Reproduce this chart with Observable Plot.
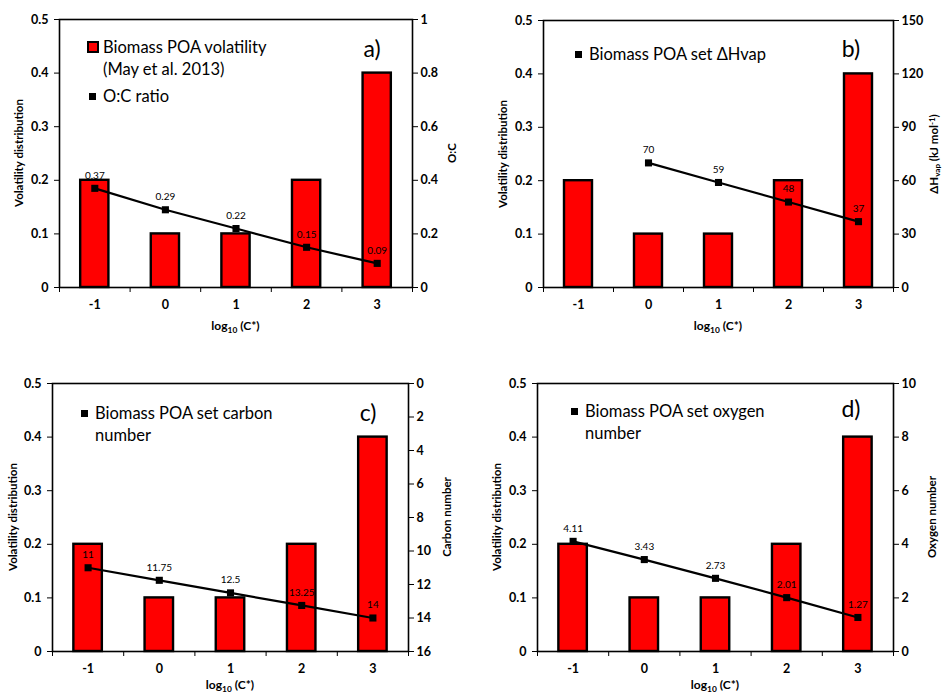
<!DOCTYPE html>
<html>
<head>
<meta charset="utf-8">
<script src="https://cdn.jsdelivr.net/npm/d3@7"></script>
<script src="https://cdn.jsdelivr.net/npm/@observablehq/plot@0.6"></script>
<style>
  html, body { margin: 0; padding: 0; background: #fff; }
  #root { position: relative; width: 943px; height: 695px; overflow: hidden; font-family: Lato, "Open Sans", sans-serif; color: #000; }
  .panel { position: absolute; }
  .panel svg { position: absolute; left: 0; top: 0; overflow: visible; }
  .vt { position: absolute; white-space: nowrap; line-height: 1; transform: translate(-50%, -50%) rotate(-90deg); font-weight: bold; font-size: 11.5px; }
  .xt { position: absolute; white-space: nowrap; line-height: 1; transform: translate(-50%, -50%); font-weight: bold; font-size: 12px; }
  .leg { position: absolute; white-space: nowrap; line-height: 1; transform: translateY(-50%); font-size: 16.5px; }
  .letter { position: absolute; white-space: nowrap; line-height: 1; transform: translate(-50%, -50%); font-size: 23px; }
  .sw { position: absolute; box-sizing: border-box; }
  .sb { font-size: 0.7em; position: relative; top: 0.3em; }
  .sp { font-size: 0.7em; position: relative; top: -0.4em; }
</style>
</head>
<body>
<div id="root"></div>
<script>
// ---- data ----
const bins = [-1, 0, 1, 2, 3];                       // log10(C*)
const volatility = [0.2, 0.1, 0.1, 0.2, 0.4];         // Biomass POA volatility (May et al. 2013)
const ocRatio = [0.37, 0.29, 0.22, 0.15, 0.09];       // O:C ratio
const dHvapBins = [0, 1, 2, 3];
const dHvap = [70, 59, 48, 37];                       // kJ mol-1
const carbonNumber = [11, 11.75, 12.5, 13.25, 14];
const oxygenNumber = [4.11, 3.43, 2.73, 2.01, 1.27];
const leftTicks = [0, 0.1, 0.2, 0.3, 0.4, 0.5];
const ocTicks = [0, 0.2, 0.4, 0.6, 0.8, 1];
const dHTicks = [0, 30, 60, 90, 120, 150];
const carbonTicks = [0, 2, 4, 6, 8, 10, 12, 14, 16];
const oxygenTicks = [0, 2, 4, 6, 8, 10];

const barData = bins.map((b, i) => ({bin: b, v: volatility[i]}));
const binEdges = bins.map(b => b - 0.5).concat([bins[bins.length - 1] + 0.5]);
const barHalf = 0.2;
const xDomain = [binEdges[0], binEdges[binEdges.length - 1]];
const fmt = d => String(d);

const panels = [
  {
    left: 0, top: 0, w: 470, h: 340, m: [19, 58, 53, 59],
    line: bins.map((b, i) => ({bin: b, v: ocRatio[i]})),
    rDomain: [0, 1], rTicks: ocTicks, reverse: false,
    letter: "a)", letterPos: [372, 48],
    leftTitleX: 19, rightTitleX: 452, rightTitle: "O:C",
    xTitleY: 326,
    legend: [
      {type: "bar", x: 87, y: 47, lines: ["Biomass POA volatility", "(May et al. 2013)"]},
      {type: "dot", x: 92, y: 96, lines: ["O:C ratio"]}
    ], textX: 103
  },
  {
    left: 470, top: 0, w: 473, h: 340, m: [20, 50, 53, 73],
    line: dHvapBins.map((b, i) => ({bin: b, v: dHvap[i]})),
    rDomain: [0, 150], rTicks: dHTicks, reverse: false,
    letter: "b)", letterPos: [381, 48],
    leftTitleX: 33, rightTitleX: 464, rightTitle: "ΔH<span class=\"sb\">vap</span> (kJ mol<span class=\"sp\">-1</span>)",
    xTitleY: 326,
    legend: [
      {type: "dot", x: 108, y: 54, lines: ["Biomass POA set ΔHvap"]}
    ], textX: 119
  },
  {
    left: 0, top: 340, w: 470, h: 355, m: [43, 62, 44, 52],
    line: bins.map((b, i) => ({bin: b, v: carbonNumber[i]})),
    rDomain: [0, 16], rTicks: carbonTicks, reverse: true,
    letter: "c)", letterPos: [368, 72],
    leftTitleX: 13, rightTitleX: 447, rightTitle: "Carbon number",
    xTitleY: 345,
    legend: [
      {type: "dot", x: 84, y: 73, lines: ["Biomass POA set carbon", "number"]}
    ], textX: 95
  },
  {
    left: 470, top: 340, w: 473, h: 355, m: [43, 50, 44, 67],
    line: bins.map((b, i) => ({bin: b, v: oxygenNumber[i]})),
    rDomain: [0, 10], rTicks: oxygenTicks, reverse: false,
    letter: "d)", letterPos: [381, 68],
    leftTitleX: 27, rightTitleX: 462, rightTitle: "Oxygen number",
    xTitleY: 345,
    legend: [
      {type: "dot", x: 104, y: 71, lines: ["Biomass POA set oxygen", "number"]}
    ], textX: 115
  }
];

const root = document.getElementById("root");
const fontStyle = {fontFamily: "Lato, 'Open Sans', sans-serif", fontSize: "12.5px", fontWeight: "bold", background: "transparent", overflow: "visible"};

for (const p of panels) {
  const div = document.createElement("div");
  div.className = "panel";
  div.style.left = p.left + "px";
  div.style.top = p.top + "px";
  div.style.width = p.w + "px";
  div.style.height = p.h + "px";
  root.appendChild(div);

  const [mt, mr, mb, ml] = p.m;
  const common = {width: p.w, height: p.h, marginTop: mt, marginRight: mr, marginBottom: mb, marginLeft: ml, style: fontStyle};

  const bars = Plot.plot({
    ...common,
    x: {domain: xDomain},
    y: {domain: [0, 0.5]},
    marks: [
      Plot.rectY(barData, {x1: d => d.bin - barHalf, x2: d => d.bin + barHalf, y: "v", fill: "#ff0000", stroke: "#000", strokeWidth: 2.4}),
      Plot.frame({stroke: "#000", strokeWidth: 1.6}),
      Plot.axisY({anchor: "left", ticks: leftTicks, tickFormat: fmt, tickSize: 5, tickPadding: 6, label: null}),
      Plot.axisX({ticks: bins, tickFormat: fmt, tickSize: 0, tickPadding: 13, label: null}),
      Plot.axisX({ticks: binEdges, tickSize: 5, tickFormat: () => "", label: null})
    ]
  });
  div.appendChild(bars);

  const line = Plot.plot({
    ...common,
    x: {domain: xDomain, axis: null},
    y: {domain: p.rDomain, reverse: p.reverse, axis: null},
    marks: [
      Plot.line(p.line, {x: "bin", y: "v", stroke: "#000", strokeWidth: 2.2}),
      Plot.dot(p.line, {x: "bin", y: "v", symbol: "square", r: 4, fill: "#000", stroke: "none"}),
      Plot.text(p.line, {x: "bin", y: "v", text: d => String(d.v), dy: -13, fontSize: 10, fontWeight: "normal", fill: "#000"}),
      Plot.axisY({anchor: "right", ticks: p.rTicks, tickFormat: fmt, tickSize: 5, tickPadding: 3, label: null})
    ]
  });
  line.style.pointerEvents = "none";
  div.appendChild(line);

  // axis titles
  const cy = mt + (p.h - mt - mb) / 2;
  const lt = document.createElement("div");
  lt.className = "vt"; lt.style.left = p.leftTitleX + "px"; lt.style.top = cy + "px";
  lt.textContent = "Volatility distribution";
  div.appendChild(lt);

  const rt = document.createElement("div");
  rt.className = "vt"; rt.style.left = p.rightTitleX + "px"; rt.style.top = cy + "px";
  rt.innerHTML = p.rightTitle;
  div.appendChild(rt);

  const xt = document.createElement("div");
  xt.className = "xt"; xt.style.left = (ml + (p.w - ml - mr) / 2) + "px"; xt.style.top = p.xTitleY + "px";
  xt.innerHTML = "log<span class=\"sb\">10</span> (C*)";
  div.appendChild(xt);

  // panel letter
  const lt2 = document.createElement("div");
  lt2.className = "letter"; lt2.style.left = p.letterPos[0] + "px"; lt2.style.top = p.letterPos[1] + "px";
  lt2.textContent = p.letter;
  div.appendChild(lt2);

  // legend
  for (const item of p.legend) {
    const sw = document.createElement("div");
    sw.className = "sw";
    if (item.type === "bar") {
      sw.style.width = "12px"; sw.style.height = "12px";
      sw.style.left = (item.x) + "px"; sw.style.top = (item.y - 6) + "px";
      sw.style.background = "#ff0000"; sw.style.border = "2px solid #000";
    } else {
      sw.style.width = "7px"; sw.style.height = "7px";
      sw.style.left = (item.x - 3.5) + "px"; sw.style.top = (item.y - 3.5) + "px";
      sw.style.background = "#000";
    }
    div.appendChild(sw);
    item.lines.forEach((txt, k) => {
      const t = document.createElement("div");
      t.className = "leg";
      t.style.left = p.textX + "px";
      t.style.top = (item.y + k * 22) + "px";
      t.textContent = txt;
      div.appendChild(t);
    });
  }
}
</script>
</body>
</html>
